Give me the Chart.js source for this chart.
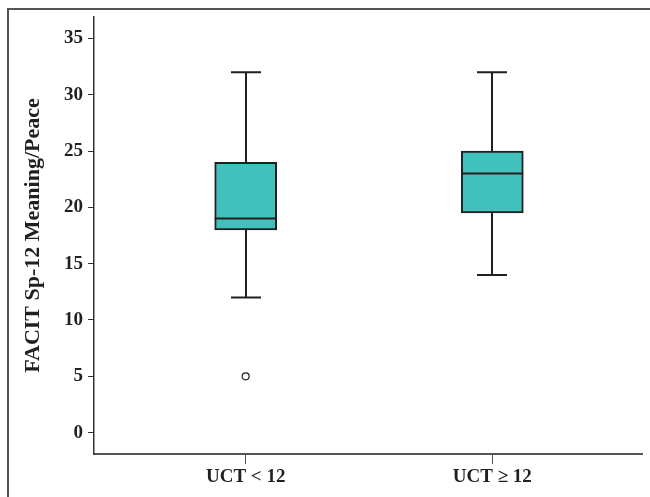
<!DOCTYPE html>
<html>
<head>
<meta charset="utf-8">
<script src="https://cdn.jsdelivr.net/npm/chart.js@4.4.0/dist/chart.umd.min.js"></script>
<style>
  html, body { margin: 0; padding: 0; background: #fff; }
  #wrap { width: 650px; height: 497px; }
</style>
</head>
<body>
<div id="wrap"><canvas id="boxChart"></canvas></div>
<script>
var categories = ['UCT < 12', 'UCT \u2265 12'];
var whiskerLow = [12, 14];
var q1 = [18, 19.5];
var median = [19, 23];
var q3 = [24, 25];
var whiskerHigh = [32, 32];
var outliers = [{ group: 0, value: 5 }];

var ink = '#231f20';
var boxFill = '#42c0bc';

var boxData = categories.map(function (c, i) {
  return { x: i, y: [q1[i], q3[i]] };
});
var outlierData = outliers.map(function (o) {
  return { x: o.group, y: o.value };
});

// whiskers go behind the boxes, medians on top
var boxPlotParts = {
  id: 'boxPlotParts',
  beforeDraw: function (chart) {
    var c = chart.ctx;
    c.save();
    c.strokeStyle = '#555';
    c.lineWidth = 2;
    c.beginPath();
    c.moveTo(8, 497);
    c.lineTo(8, 9);
    c.lineTo(650, 9);
    c.stroke();
    c.restore();
  },
  beforeDatasetsDraw: function (chart) {
    var c = chart.ctx;
    var xs = chart.scales.x, ys = chart.scales.y;
    c.save();
    c.strokeStyle = ink;
    c.lineWidth = 2;
    categories.forEach(function (cat, i) {
      var x = Math.round(xs.getPixelForValue(i));
      var capHalf = 15;
      c.beginPath();
      c.moveTo(x, ys.getPixelForValue(whiskerLow[i]));
      c.lineTo(x, ys.getPixelForValue(whiskerHigh[i]));
      c.moveTo(x - capHalf, ys.getPixelForValue(whiskerLow[i]));
      c.lineTo(x + capHalf, ys.getPixelForValue(whiskerLow[i]));
      c.moveTo(x - capHalf, ys.getPixelForValue(whiskerHigh[i]));
      c.lineTo(x + capHalf, ys.getPixelForValue(whiskerHigh[i]));
      c.stroke();
    });
    c.restore();
  },
  afterDatasetsDraw: function (chart) {
    var c = chart.ctx;
    var xs = chart.scales.x, ys = chart.scales.y;
    c.save();
    c.strokeStyle = ink;
    c.lineWidth = 2;
    categories.forEach(function (cat, i) {
      var x = xs.getPixelForValue(i);
      var y = ys.getPixelForValue(median[i]);
      c.beginPath();
      c.moveTo(x - 31, y);
      c.lineTo(x + 31, y);
      c.stroke();
    });
    c.restore();
  }
};

var ctx = document.getElementById('boxChart').getContext('2d');
var chart = new Chart(ctx, {
  type: 'bar',
  data: {
    datasets: [{
      type: 'bar',
      label: 'box',
      data: boxData,
      backgroundColor: boxFill,
      borderColor: ink,
      borderWidth: 2,
      borderSkipped: false,
      barThickness: 62,
      order: 2
    }, {
      type: 'scatter',
      label: 'outliers',
      data: outlierData,
      pointRadius: 3.5,
      pointBackgroundColor: '#fff',
      pointBorderColor: ink,
      pointBorderWidth: 1.2,
      order: 1
    }]
  },
  options: {
    responsive: true,
    maintainAspectRatio: false,
    animation: false,
    layout: { padding: { left: 0, top: 17, right: 8, bottom: 0 } },
    plugins: {
      legend: { display: false },
      tooltip: { enabled: false }
    },
    scales: {
      x: {
        type: 'linear',
        min: -0.615,
        max: 1.607,
        offset: false,
        afterFit: function (s) { s.height = 43; },
        ticks: {
          stepSize: 1,
          includeBounds: false,
          padding: 2,
          color: ink,
          font: { family: 'Liberation Serif', size: 19, weight: 'bold' },
          callback: function (v) { return categories[v] !== undefined ? categories[v] : ''; }
        },
        grid: { display: true, offset: false, drawOnChartArea: false, drawTicks: true, tickLength: 10, color: '#555', lineWidth: 1 },
        border: { display: true, color: '#555', width: 2 }
      },
      y: {
        min: -1.9,
        max: 36.9,
        afterFit: function (s) { s.width = 94; },
        ticks: {
          stepSize: 5,
          includeBounds: false,
          padding: 5,
          color: ink,
          font: { family: 'Liberation Serif', size: 19, weight: 'bold' }
        },
        grid: { display: true, drawOnChartArea: false, drawTicks: true, tickLength: 6, color: '#333', lineWidth: 1 },
        border: { display: true, color: '#333', width: 1.5 },
        title: {
          display: true,
          text: 'FACIT Sp-12 Meaning/Peace',
          color: ink,
          padding: { top: 20, bottom: 0 },
          font: { family: 'Liberation Serif', size: 22, weight: 'bold' }
        }
      }
    }
  },
  plugins: [boxPlotParts]
});
</script>
</body>
</html>
